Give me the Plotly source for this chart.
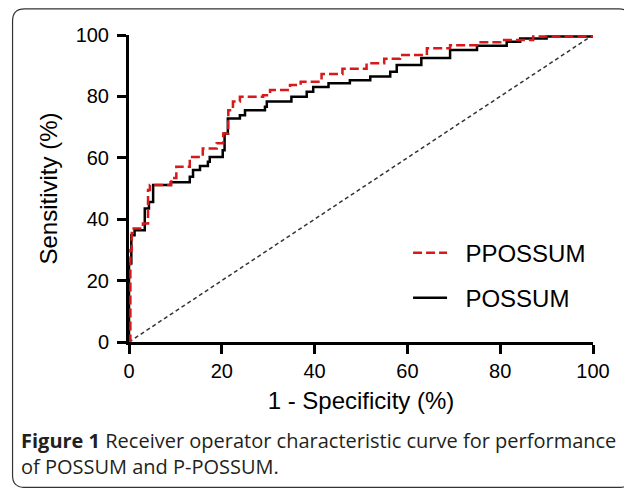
import plotly.graph_objects as go

# ---- data (in %) ----
possum_fpr = [0, 0, 0.5, 1.2, 3.4, 4.3, 5.2, 9.0, 13.1, 13.8, 15.3, 17.0, 17.4, 20.2, 20.6, 21.3,
              23.9, 25.0, 29.3, 29.7, 35.0, 38.3, 39.7, 43.0, 47.6, 52.0, 56.3, 57.7, 63.0,
              69.2, 75.0, 81.4, 84.3, 90.0, 100]
possum_tpr = [0, 25.6, 34.8, 36.4, 43.5, 45.6, 51.1, 52.0, 53.8, 56.0, 57.3, 58.7, 60.3, 62.5, 67.9, 72.8,
              73.9, 75.5, 76.6, 78.3, 79.9, 81.5, 83.1, 84.3, 85.3, 86.5, 88.0, 90.2, 92.5,
              95.1, 96.5, 97.8, 98.9, 99.5, 100]

pposs_fpr = [0, 0.3, 0.6, 3.0, 4.1, 4.5, 9.1, 10.2, 13.1, 15.9, 18.9, 20.3, 21.4, 22.4, 23.9,
             28.9, 30.4, 34.7, 37.0, 41.5, 46.0, 51.2, 55.0, 58.4, 64.2, 69.2, 75.0, 80.0,
             87.1, 100]
pposs_tpr = [0, 29.9, 37.0, 38.6, 49.5, 51.1, 53.4, 57.1, 60.3, 63.0, 64.7, 67.9, 75.5, 78.3, 79.9,
             80.4, 82.1, 83.7, 84.8, 87.3, 89.0, 90.8, 92.3, 93.5, 95.7, 96.7, 97.6, 98.4,
             99.5, 100]

ref_x = [0, 100]
ref_y = [0, 100]

tick_vals = [0, 20, 40, 60, 80, 100]
tick_text = ["0", "20", "40", "60", "80", "100"]

x_title = "1 - Specificity (%)"
y_title = "Sensitivity (%)"
caption = ("<b>Figure 1</b> Receiver operator characteristic curve for performance"
           "<br>of POSSUM and P-POSSUM.")
NB = "\u00a0"

# ---- layout geometry (screen pixels; page body has an 8px margin) ----
OFF = 8
W, H = 632 - OFF, 488 - OFF
L, R, T, B = 129.3 - OFF, 592.7 - OFF, 35.0 - OFF, 341.7 - OFF


def px(x):  # screen x -> paper
    return (x - OFF - L) / (R - L)


def py(y):  # screen y -> paper
    return (B - (y - OFF)) / (B - T)


ARIAL = "Liberation Sans, Arial, sans-serif"

fig = go.Figure()

fig.add_trace(go.Scatter(x=ref_x, y=ref_y, mode="lines", showlegend=False,
                         line=dict(color="#333333", width=1.5, dash="4px,3px"),
                         hoverinfo="skip"))
fig.add_trace(go.Scatter(x=possum_fpr, y=possum_tpr, mode="lines", name=NB * 2 + "POSSUM",
                         line=dict(color="black", width=2.5, shape="hv"),
                         legend="legend2"))
fig.add_trace(go.Scatter(x=pposs_fpr, y=pposs_tpr, mode="lines", name=NB * 2 + "PPOSSUM",
                         line=dict(color="#d7191c", width=2.5, shape="hv", dash="9px,4px"),
                         legend="legend"))

axis_common = dict(range=[0, 100], showgrid=False, zeroline=False, showline=True,
                   linecolor="black", linewidth=3, ticks="outside", ticklen=9,
                   tickwidth=3, tickcolor="black", tickvals=tick_vals, ticktext=tick_text,
                   tickfont=dict(family=ARIAL, size=20, color="black"), fixedrange=True)

leg_common = dict(xanchor="left", yanchor="middle", bgcolor="rgba(0,0,0,0)", itemwidth=34,
                  font=dict(family=ARIAL, size=24, color="black"))

fig.update_layout(
    width=W, height=H,
    margin=dict(l=L, r=W - R, t=T, b=H - B, pad=0),
    paper_bgcolor="white", plot_bgcolor="white",
    xaxis=dict(**axis_common,
               title=dict(text=x_title, font=dict(family=ARIAL, size=24, color="black"),
                          standoff=12)),
    yaxis=dict(**axis_common, ticklabelstandoff=4,
               title=dict(text=y_title, font=dict(family=ARIAL, size=24, color="black"),
                          standoff=12)),
    legend=dict(x=px(408), y=py(253), **leg_common),
    legend2=dict(x=px(408), y=py(298), **leg_common),
    showlegend=True,
)

# rounded frame around figure + caption
fx0, fx1 = 13, 631
fy0, fy1 = 9, 487
r = 12
path = (f"M {px(fx0 + r)} {py(fy0)} L {px(fx1 - r)} {py(fy0)} "
        f"Q {px(fx1)} {py(fy0)} {px(fx1)} {py(fy0 + r)} "
        f"L {px(fx1)} {py(fy1 - r)} Q {px(fx1)} {py(fy1)} {px(fx1 - r)} {py(fy1)} "
        f"L {px(fx0 + r)} {py(fy1)} Q {px(fx0)} {py(fy1)} {px(fx0)} {py(fy1 - r)} "
        f"L {px(fx0)} {py(fy0 + r)} Q {px(fx0)} {py(fy0)} {px(fx0 + r)} {py(fy0)} Z")
fig.add_shape(type="path", path=path, xref="paper", yref="paper",
              line=dict(color="#333333", width=1.2), fillcolor="rgba(0,0,0,0)", layer="below")

fig.add_annotation(text=caption, xref="paper", yref="paper", x=px(19), y=py(453.5),
                   xanchor="left", yanchor="middle", align="left", showarrow=False,
                   font=dict(family="Open Sans, sans-serif", size=20, color="#231f20"))

fig.write_html("out.html")
